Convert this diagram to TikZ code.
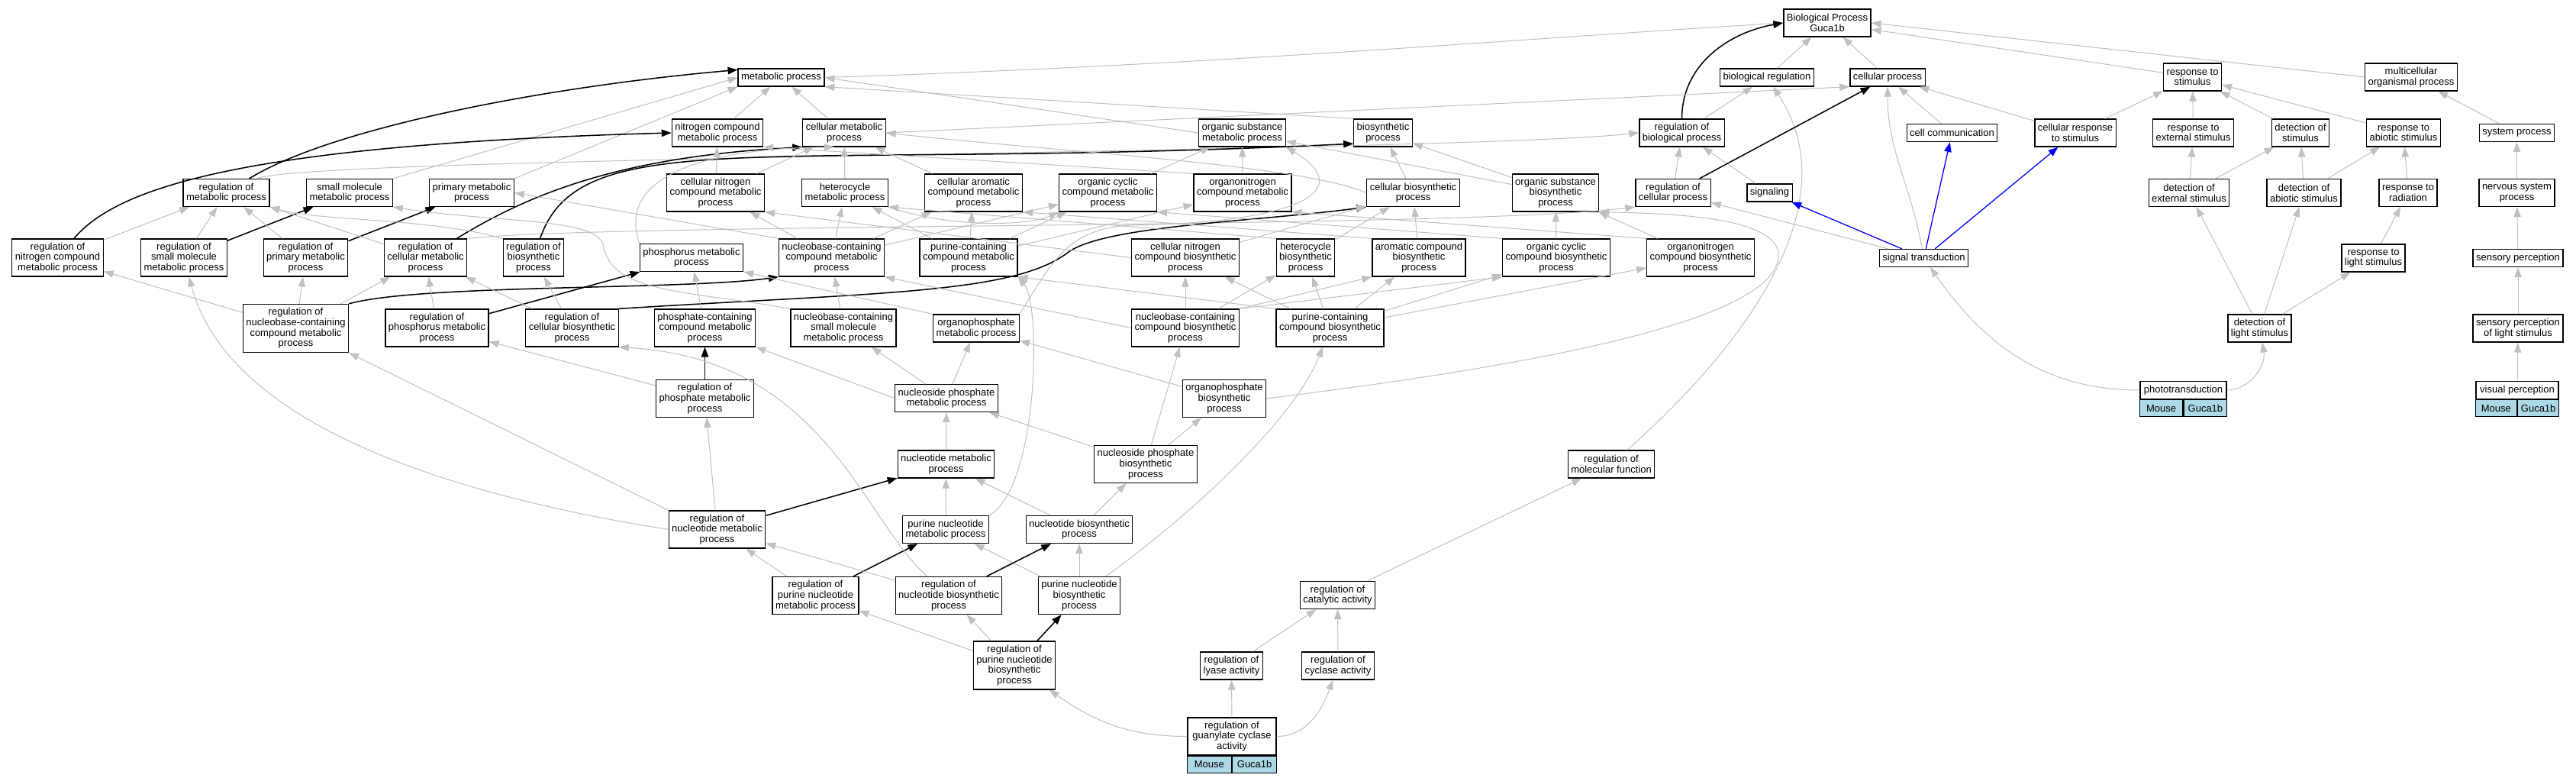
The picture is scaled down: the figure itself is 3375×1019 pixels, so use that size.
\documentclass[tikz,border=0pt]{standalone}
\usepackage{fontspec}
\setmainfont{Liberation Sans}
\usetikzlibrary{arrows.meta, positioning}
\definecolor{edgegray}{HTML}{C0C0C0}
\definecolor{genecell}{HTML}{ADD8E6}

\begin{document}
\begin{tikzpicture}[x=0.03cm, y=-0.03cm,
    term/.style={draw, line width=1.1pt, fill=white, align=center, inner xsep=3.4pt, inner ysep=1pt, font=\fontsize{11.1}{11.7}\selectfont},
    l1/.style={term, minimum height=0.69cm},
    l2/.style={term, minimum height=1.08cm},
    l3/.style={term, minimum height=1.47cm},
    l4/.style={term, minimum height=1.89cm},
    gene/.style={draw, line width=1.1pt, fill=genecell, minimum height=0.66cm, inner sep=0pt, font=\fontsize{11.1}{11.7}\selectfont},
    isa/.style={draw=edgegray, line width=0.85pt, -{Triangle[length=11pt, width=8pt]}},
    reg/.style={draw=black, line width=1.3pt, -{Triangle[length=11pt, width=8pt]}},
    part/.style={draw=blue, line width=1.1pt, -{Triangle[length=11pt, width=8pt]}}]
  \useasboundingbox (0,0) rectangle (3375,1019);

  \node[l2] (root) at (2394,30) {Biological Process\\Guca1b};
  \node[l1] (bioreg) at (2315,101.5) {biological regulation};
  \node[l1] (cellproc) at (2473,101.5) {cellular process};
  \node[l1] (metab) at (1023.5,101.5) {metabolic process};
  \node[l2] (respstim) at (2872.5,101) {response to\\stimulus};
  \node[l2] (multicell) at (3159,101) {multicellular\\organismal process};

  \node[l2] (nitro) at (940,174) {nitrogen compound\\metabolic process};
  \node[l2] (cellmeta) at (1106,174) {cellular metabolic\\process};
  \node[l2] (orgsub) at (1627.5,174) {organic substance\\metabolic process};
  \node[l2] (biosyn) at (1812,174) {biosynthetic\\process};
  \node[l2] (regbioproc) at (2203.5,174) {regulation of\\biological process};
  \node[l1] (cellcomm) at (2557.5,174) {cell communication};
  \node[l2] (cellresp) at (2719,174) {cellular response\\to stimulus};
  \node[l2] (respext) at (2873.5,174) {response to\\external stimulus};
  \node[l2] (detstim) at (3014,174) {detection of\\stimulus};
  \node[l2] (respabio) at (3149,174) {response to\\abiotic stimulus};
  \node[l1] (sysproc) at (3297.5,174) {system process};

  \node[l2] (regmeta) at (296.5,252.5) {regulation of\\metabolic process};
  \node[l2] (smallmol) at (458,252.5) {small molecule\\metabolic process};
  \node[l2] (primary) at (618,252.5) {primary metabolic\\process};
  \node[l3] (cellnitro) at (937.5,252.5) {cellular nitrogen\\compound metabolic\\process};
  \node[l2] (hetero) at (1107,252.5) {heterocycle\\metabolic process};
  \node[l3] (cellarom) at (1275.5,252.5) {cellular aromatic\\compound metabolic\\process};
  \node[l3] (orgcyc) at (1451.5,252.5) {organic cyclic\\compound metabolic\\process};
  \node[l3] (orgnitro) at (1628,252.5) {organonitrogen\\compound metabolic\\process};
  \node[l2] (cellbio) at (1851.5,252.5) {cellular biosynthetic\\process};
  \node[l3] (orgsubbio) at (2038,252.5) {organic substance\\biosynthetic\\process};
  \node[l2] (regcellproc) at (2192,252.5) {regulation of\\cellular process};
  \node[l1] (signaling) at (2318.5,252.5) {signaling};
  \node[l2] (detext) at (2868,252.5) {detection of\\external stimulus};
  \node[l2] (detabio) at (3018.5,252.5) {detection of\\abiotic stimulus};
  \node[l2] (resprad) at (3155,252.5) {response to\\radiation};
  \node[l2] (nervous) at (3297.5,252.5) {nervous system\\process};

  \node[l3] (regnitro) at (75.5,337.5) {regulation of\\nitrogen compound\\metabolic process};
  \node[l3] (regsmall) at (241,337.5) {regulation of\\small molecule\\metabolic process};
  \node[l3] (regprim) at (400.5,337.5) {regulation of\\primary metabolic\\process};
  \node[l3] (regcellmeta) at (557.5,337.5) {regulation of\\cellular metabolic\\process};
  \node[l3] (regbio) at (699,337.5) {regulation of\\biosynthetic\\process};
  \node[l2] (phosphorus) at (906,337.5) {phosphorus metabolic\\process};
  \node[l3] (nucbase) at (1089.5,337.5) {nucleobase-containing\\compound metabolic\\process};
  \node[l3] (purcomp) at (1269,337.5) {purine-containing\\compound metabolic\\process};
  \node[l3] (cellnitrobio) at (1553,337.5) {cellular nitrogen\\compound biosynthetic\\process};
  \node[l3] (heterobio) at (1710.5,337.5) {heterocycle\\biosynthetic\\process};
  \node[l3] (arombio) at (1859,337.5) {aromatic compound\\biosynthetic\\process};
  \node[l3] (orgcycbio) at (2039,337.5) {organic cyclic\\compound biosynthetic\\process};
  \node[l3] (orgnitrobio) at (2228,337.5) {organonitrogen\\compound biosynthetic\\process};
  \node[l1] (sigtrans) at (2520.5,338) {signal transduction};
  \node[l2] (resplight) at (3109.5,338) {response to\\light stimulus};
  \node[l1] (sensory) at (3299,338) {sensory perception};

  \node[l4] (regnucbase) at (387.5,430) {regulation of\\nucleobase-containing\\compound metabolic\\process};
  \node[l3] (regphosphorus) at (572.5,429.5) {regulation of\\phosphorus metabolic\\process};
  \node[l3] (regcellbio) at (749.5,429.5) {regulation of\\cellular biosynthetic\\process};
  \node[l3] (phosphate) at (923.5,429.5) {phosphate-containing\\compound metabolic\\process};
  \node[l3] (nucsmall) at (1105,429.5) {nucleobase-containing\\small molecule\\metabolic process};
  \node[l2] (orgphos) at (1279,430) {organophosphate\\metabolic process};
  \node[l3] (nucbasebio) at (1553,429.5) {nucleobase-containing\\compound biosynthetic\\process};
  \node[l3] (purbio) at (1742.5,429.5) {purine-containing\\compound biosynthetic\\process};
  \node[l2] (detlight) at (2960.5,430) {detection of\\light stimulus};
  \node[l2] (senslight) at (3299,430) {sensory perception\\of light stimulus};

  \node[l3] (regphosphate) at (923.5,522) {regulation of\\phosphate metabolic\\process};
  \node[l2] (nucphos) at (1240,521.5) {nucleoside phosphate\\metabolic process};
  \node[l3] (orgphosbio) at (1604,522) {organophosphate\\biosynthetic\\process};
  \node[l1, minimum width=3.39cm] (photo) at (2860.5,511) {phototransduction};
  \node[gene, minimum width=1.695cm, below left=0pt of photo.south] (photoM) {Mouse};
  \node[gene, minimum width=1.695cm, below right=0pt of photo.south] (photoG) {Guca1b};
  \node[l1, minimum width=3.24cm] (visual) at (3298,511) {visual perception};
  \node[gene, minimum width=1.62cm, below left=0pt of visual.south] (visualM) {Mouse};
  \node[gene, minimum width=1.62cm, below right=0pt of visual.south] (visualG) {Guca1b};

  \node[l2] (nucmeta) at (1239.5,608) {nucleotide metabolic\\process};
  \node[l3] (nucphosbio) at (1501,608) {nucleoside phosphate\\biosynthetic\\process};
  \node[l2] (regmolfun) at (2111,608) {regulation of\\molecular function};

  \node[l3] (regnucmeta) at (939.5,693.5) {regulation of\\nucleotide metabolic\\process};
  \node[l2] (purnucmeta) at (1239,693.5) {purine nucleotide\\metabolic process};
  \node[l2] (nucbiosyn) at (1414,693.5) {nucleotide biosynthetic\\process};

  \node[l3] (regpurmeta) at (1068.5,780) {regulation of\\purine nucleotide\\metabolic process};
  \node[l3] (regnucbio) at (1243,780) {regulation of\\nucleotide biosynthetic\\process};
  \node[l3] (purnucbio) at (1414,780) {purine nucleotide\\biosynthetic\\process};
  \node[l2] (regcatal) at (1752.5,779.5) {regulation of\\catalytic activity};

  \node[l4] (regpurbio) at (1329,871.5) {regulation of\\purine nucleotide\\biosynthetic\\process};
  \node[l2] (reglyase) at (1613.5,872) {regulation of\\lyase activity};
  \node[l2] (regcyclase) at (1753,872) {regulation of\\cyclase activity};

  \node[l3, minimum width=3.48cm] (guan) at (1614,964.5) {regulation of\\guanylate cyclase\\activity};
  \node[gene, minimum width=1.74cm, below left=0pt of guan.south] (guanM) {Mouse};
  \node[gene, minimum width=1.74cm, below right=0pt of guan.south] (guanG) {Guca1b};

  % top of the tree
  \path (bioreg) edge[isa] (root);
  \path (cellproc) edge[isa] (root);
  \draw[isa] (metab.east) .. controls (1600,85) and (2000,50) .. (root.west);
  \path (respstim) edge[isa] (root);
  \draw[isa] (multicell.west) -- (root.east);
  \draw[reg] (regbioproc) to[out=90, in=190] (root.west);
  \path (regbioproc) edge[isa] (bioreg);
  \draw[isa] (regmolfun) .. controls (2300,440) and (2420,260) .. (bioreg);

  % stimulus side
  \path (cellcomm) edge[isa] (cellproc);
  \path (cellresp) edge[isa] (cellproc) edge[isa] (respstim);
  \path (respext) edge[isa] (respstim);
  \path (detstim) edge[isa] (respstim);
  \path (respabio) edge[isa] (respstim);
  \path (sysproc) edge[isa] (multicell);
  \path (detext) edge[isa] (respext) edge[isa] (detstim);
  \path (detabio) edge[isa] (detstim) edge[isa] (respabio);
  \path (resprad) edge[isa] (respabio);
  \path (nervous) edge[isa] (sysproc);
  \path (resplight) edge[isa] (resprad);
  \path (sensory) edge[isa] (nervous);
  \path (detlight) edge[isa] (detext) edge[isa] (detabio) edge[isa] (resplight);
  \path (senslight) edge[isa] (sensory);
  \path (visual) edge[isa] (senslight);
  \draw[isa] (photo.east) to[out=0, in=-80] (detlight);
  \draw[isa] (photo.west) to[out=180, in=-55] (sigtrans);
  \path (sigtrans) edge[part] (signaling) edge[part] (cellcomm) edge[part] (cellresp) edge[isa] (regcellproc);
  \draw[isa] (sigtrans) to[out=100, in=-90] (cellproc);
  \path (signaling) edge[isa] (regbioproc);
  \path (regcellproc) edge[isa] (regbioproc) edge[reg] (cellproc);

  % metabolic side
  \draw[isa] (cellmeta.east) -- (cellproc.south west);
  \path (nitro) edge[isa] (metab);
  \path (cellmeta) edge[isa] (metab);
  \draw[isa] (orgsub.west) -- (metab.east);
  \draw[isa] (biosyn.north west) -- (metab.south east);
  \draw[isa] (primary.north east) -- (metab.south west);
  \draw[isa] (smallmol.north east) -- (metab.west);
  \draw[reg] (regmeta) .. controls (430,170) and (700,115) .. (metab.170);
  \draw[reg] (regnitro) .. controls (150,250) and (300,190) .. (nitro.west);
  \draw[isa] (regmeta) .. controls (400,205) and (1900,200) .. (regbioproc.west);
  \path (regnitro) edge[isa] (regmeta);
  \path (regsmall) edge[isa] (regmeta) edge[reg] (smallmol);
  \path (regprim) edge[isa] (regmeta) edge[reg] (primary);
  \path (regcellmeta) edge[isa] (regmeta);
  \draw[reg] (regcellmeta) .. controls (700,250) and (820,205) .. (cellmeta.south west);
  \draw[isa] (regcellmeta.north east) .. controls (800,292) and (1900,300) .. (regcellproc.south west);
  \draw[isa] (regbio.north west) .. controls (560,285) and (420,290) .. (regmeta.south east);
  \draw[reg] (regbio) .. controls (760,160) and (1000,225) .. (biosyn.200);
  \path (regnucbase) edge[isa] (regnitro) edge[isa] (regprim) edge[isa] (regcellmeta);
  \draw[reg] (regnucbase.north east) .. controls (550,372) and (900,380) .. (nucbase.south west);
  \path (regphosphorus) edge[isa] (regcellmeta) edge[reg] (phosphorus);
  \path (regcellbio) edge[isa] (regbio) edge[isa] (regcellmeta);
  \draw[reg] (regcellbio.north east) .. controls (1150,383) and (1330,385) .. (1400,330) .. controls (1450,295) and (1650,290) .. (cellbio.south west);
  \path (regphosphate) edge[isa] (regphosphorus) edge[reg] (phosphate);

  \path (nucbase) edge[isa] (cellnitro) edge[isa] (hetero) edge[isa] (cellarom) edge[isa] (orgcyc);
  \draw[isa] (nucbase.north west) -- (primary.east);
  \path (purcomp) edge[isa] (hetero) edge[isa] (cellarom) edge[isa] (orgcyc) edge[isa] (orgnitro);
  \path (cellnitro) edge[isa] (nitro) edge[isa] (cellmeta);
  \path (hetero) edge[isa] (cellmeta);
  \draw[isa] (hetero.south east) .. controls (1250,300) and (1350,295) .. (orgcyc.south west);
  \path (cellarom) edge[isa] (cellmeta);
  \path (orgcyc) edge[isa] (orgsub);
  \path (orgnitro) edge[isa] (orgsub);
  \draw[isa] (orgnitro.north west) -- (nitro.south east);
  \draw[isa] (phosphorus.north west) .. controls (810,240) and (900,195) .. (cellmeta.235);
  \draw[isa] (orgphos.north west) -- (phosphorus.south east);
  \draw[isa] (orgphos.north east) .. controls (1380,340) and (1400,300) .. (1480,295) .. controls (1700,292) and (1780,250) .. (orgsub.south east);
  \draw[isa] (cellnitrobio.west) -- (cellnitro.south east);
  \path (cellnitrobio) edge[isa] (cellbio);
  \draw[isa] (nucbasebio.west) -- (nucbase.south east);
  \path (nucbasebio) edge[isa] (cellnitrobio) edge[isa] (heterobio);
  \draw[isa] (nucbasebio.north east) -- (arombio.south west);
  \draw[isa] (nucbasebio.north east) -- (orgcycbio.south west);
  \path (heterobio) edge[isa] (cellbio);
  \draw[isa] (heterobio.north west) -- (hetero.south east);
  \path (arombio) edge[isa] (cellbio);
  \draw[isa] (arombio.north west) -- (cellarom.south east);
  \path (orgcycbio) edge[isa] (orgsubbio);
  \draw[isa] (orgcycbio.north west) -- (orgcyc.south east);
  \path (orgnitrobio) edge[isa] (orgsubbio);
  \draw[isa] (orgnitrobio.north west) -- (orgnitro.south east);
  \path (orgsubbio) edge[isa] (orgsub) edge[isa] (biosyn);
  \path (cellbio) edge[isa] (biosyn);
  \draw[isa] (cellbio.west) .. controls (1700,215) and (1400,200) .. (cellmeta.east);
  \draw[isa] (purbio.north west) -- (purcomp.south east);
  \path (purbio) edge[isa] (cellnitrobio) edge[isa] (heterobio) edge[isa] (arombio) edge[isa] (orgcycbio) edge[isa] (orgnitrobio);

  \path (phosphate) edge[isa] (phosphorus);
  \path (nucsmall) edge[isa] (nucbase);
  \draw[isa] (nucsmall.north west) .. controls (900,380) and (800,385) .. (790,320) .. controls (780,285) and (650,292) .. (smallmol.south east);
  \path (nucphos) edge[isa] (nucsmall) edge[isa] (orgphos);
  \draw[isa] (nucphos.west) -- (phosphate.south east);
  \path (orgphosbio) edge[isa] (orgphos);
  \draw[isa] (orgphosbio.east) .. controls (2000,480) and (2340,420) .. (2330,330) .. controls (2320,285) and (2200,280) .. (orgsubbio.south east);
  \path (nucphosbio) edge[isa] (nucphos) edge[isa] (orgphosbio) edge[isa] (nucbasebio);
  \path (nucmeta) edge[isa] (nucphos);
  \path (nucbiosyn) edge[isa] (nucmeta) edge[isa] (nucphosbio);
  \path (purnucmeta) edge[isa] (nucmeta);
  \draw[isa] (purnucmeta.north east) .. controls (1360,640) and (1365,400) .. (purcomp.south east);
  \path (purnucbio) edge[isa] (purnucmeta) edge[isa] (nucbiosyn);
  \draw[isa] (purnucbio) .. controls (1580,660) and (1700,540) .. (purbio);

  % regulation of nucleotides
  \path (regnucmeta) edge[isa] (regphosphate) edge[reg] (nucmeta);
  \draw[isa] (regnucmeta.north west) -- (regnucbase.south east);
  \draw[isa] (regnucmeta.west) .. controls (600,650) and (300,560) .. (regsmall);
  \path (regpurmeta) edge[isa] (regnucmeta) edge[reg] (purnucmeta);
  \path (regnucbio) edge[isa] (regnucmeta) edge[reg] (nucbiosyn);
  \draw[isa] (regnucbio) .. controls (1130,680) and (1080,470) .. (regcellbio.south east);
  \path (regpurbio) edge[isa] (regpurmeta) edge[isa] (regnucbio) edge[reg] (purnucbio);
  \draw[isa] (guan.west) to[out=180, in=-35] (regpurbio);
  \path (guan) edge[isa] (reglyase);
  \draw[isa] (guan.east) to[out=0, in=-110] (regcyclase);
  \path (reglyase) edge[isa] (regcatal);
  \path (regcyclase) edge[isa] (regcatal);
  \path (regcatal) edge[isa] (regmolfun);
\end{tikzpicture}
\end{document}
